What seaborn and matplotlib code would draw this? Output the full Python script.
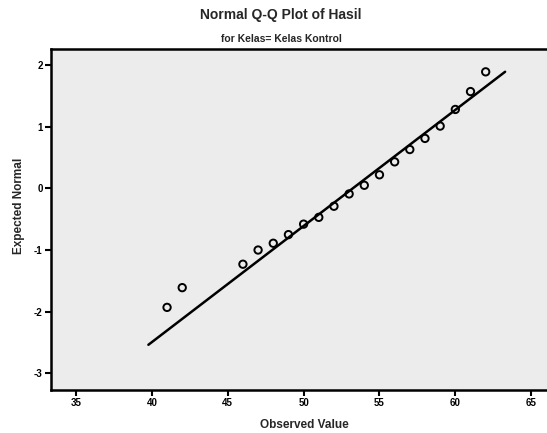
import numpy as np
import pandas as pd
import matplotlib
matplotlib.use("Agg")
import matplotlib.pyplot as plt
import seaborn as sns

# Observed scores (Hasil, Kelas Kontrol) and their expected normal quantiles
observed = [41, 42, 46, 47, 48, 49, 50, 51, 52, 53, 54, 55, 56, 57, 58, 59, 60, 61, 62]
expected = [-1.93, -1.61, -1.23, -1.00, -0.89, -0.75, -0.58, -0.47, -0.29, -0.09,
            0.05, 0.22, 0.43, 0.63, 0.81, 1.01, 1.28, 1.57, 1.89]

# Reference normal line: mean and standard deviation of the sample
sample_mean = 53.24
sample_sd = 5.31
line_range = [39.77, 63.28]

x_ticks = [35, 40, 45, 50, 55, 60, 65]
y_ticks = [-3, -2, -1, 0, 1, 2]

sns.set_style("ticks")
plt.rcParams["font.family"] = ["Liberation Sans", "DejaVu Sans"]
plt.rcParams["font.weight"] = "bold"

fig = plt.figure(figsize=(5.47, 4.33), dpi=100)
ax = fig.add_axes([0.0932, 0.0993, 0.927, 0.7875])
ax.set_facecolor("#ececec")

points = pd.DataFrame({"Observed Value": observed, "Expected Normal": expected})
line_df = pd.DataFrame({
    "x": line_range,
    "y": [(v - sample_mean) / sample_sd for v in line_range],
})

sns.lineplot(data=line_df, x="x", y="y", ax=ax, color="black", linewidth=1.8)
sns.scatterplot(data=points, x="Observed Value", y="Expected Normal", ax=ax,
                marker="o", s=28, facecolor="none", edgecolor="black",
                linewidth=1.4, zorder=3)

ax.set_xlim(33.35, 66.77)
ax.set_ylim(-3.27, 2.26)
ax.set_xticks(x_ticks)
ax.set_yticks(y_ticks)
ax.set_xticklabels([str(t) for t in x_ticks], fontsize=7, fontweight="bold")
ax.set_yticklabels([str(t) for t in y_ticks], fontsize=7, fontweight="bold")
ax.tick_params(direction="out", length=4, width=1.5, pad=2, colors="black")

for side in ["left", "bottom", "top", "right"]:
    ax.spines[side].set_visible(True)
    ax.spines[side].set_color("black")
    ax.spines[side].set_linewidth(1.8)

ax.set_xlabel("")
ax.set_ylabel("")
fig.text(0.557, 1 - 425 / 433, "Observed Value", ha="center", va="center",
         fontsize=8.5, fontweight="bold")
fig.text(0.035, 1 - 206 / 433, "Expected Normal", ha="center", va="center",
         rotation=90, fontsize=8.5, fontweight="bold")

fig.text(0.514, 1 - 15 / 433, "Normal Q-Q Plot of Hasil", ha="center", va="center",
         fontsize=10, fontweight="bold")
fig.text(0.514, 1 - 39 / 433, "for Kelas= Kelas Kontrol", ha="center", va="center",
         fontsize=7.5, fontweight="bold")

fig.savefig("out.png", dpi=100, facecolor="white")
